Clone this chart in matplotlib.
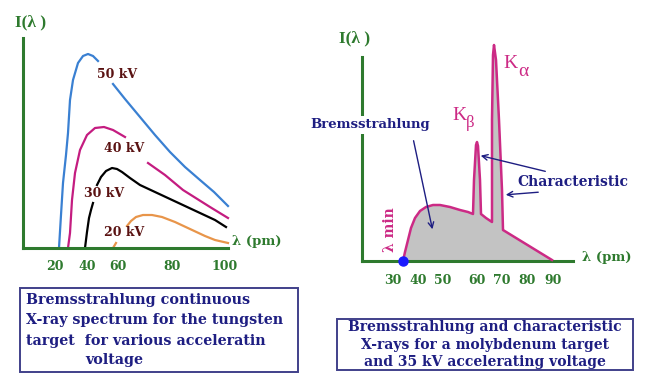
import matplotlib
matplotlib.use("Agg")
import matplotlib.pyplot as plt
from matplotlib.patches import Rectangle, FancyArrowPatch

W, H = 645, 375
SERIF = ["DejaVu Serif", "Liberation Serif"]
LSERIF = ["Liberation Serif", "DejaVu Serif"]

# ---------------- left panel data (axis units) ----------------
left_ticks_pos = [32, 64, 95, 149, 202]
left_tick_labels = ["20", "40", "60", "80", "100"]

blue1_x = [36, 38, 40, 43, 45, 47, 50, 55, 60, 65, 70, 75]
blue1_y = [0, 33, 65, 93, 115, 148, 168, 185, 192, 194, 192, 187]
blue2_x = [90, 102, 117, 132, 147, 162, 177, 191, 205]
blue2_y = [164, 149, 131, 113, 96, 81, 68, 56, 42]

mag1_x = [45, 47, 49, 52, 57, 64, 72, 81, 90, 102]
mag1_y = [0, 15, 48, 75, 98, 113, 120, 121, 118, 111]
mag2_x = [125, 142, 160, 187, 205]
mag2_y = [85, 73, 58, 41, 30]

blk1_x = [62, 64, 66, 68, 70]
blk1_y = [0, 16, 30, 38, 45]
blk2_x = [74, 78, 83, 89, 94, 99, 107, 117, 132, 147, 162, 177, 192, 203]
blk2_y = [63, 71, 77, 80, 79, 76, 70, 63, 56, 49, 42, 35, 28, 21]

org1_x = [90, 93]
org1_y = [0, 5]
org2_x = [104, 108, 113, 120, 129, 139, 152, 167, 182, 192, 205]
org2_y = [22, 27, 31, 33, 33, 31, 26, 19, 12, 8, 5]

kv_labels = ["50 kV", "40 kV", "30 kV", "20 kV"]

# ---------------- right panel data (axis units) ----------------
right_ticks_pos = [31, 56, 81, 115, 140, 165, 191]
right_tick_labels = ["30", "40", "50", "60", "70", "80", "90"]

spec_x = [41, 43, 46, 49, 53, 58, 64, 71, 78, 88, 98, 106, 111, 112, 114, 115,
          116, 118, 119, 124, 130, 130, 131, 132, 134, 137, 140, 141, 190]
spec_y = [0, 9, 21, 33, 43, 50, 54, 56, 56, 54, 51, 49, 47, 81, 116, 119,
          115, 81, 47, 43, 39, 141, 206, 216, 201, 141, 71, 31, 1]
lambda_min_x = 41

GREEN = "#2e7a2e"
NAVY = "#1e1e82"
MAG = "#cc2a85"

fig = plt.figure(figsize=(W / 100, H / 100), dpi=100)
fig.patch.set_facecolor("white")


def fx(px):
    return px / W


def fy(py):
    return 1 - py / H


def make_axes(x0, y0, x1, y1, xlim, ylim):
    ax = fig.add_axes([fx(x0), fy(y1), (x1 - x0) / W, (y1 - y0) / H])
    ax.set_xlim(*xlim)
    ax.set_ylim(*ylim)
    ax.patch.set_alpha(0)
    for s in ["top", "right"]:
        ax.spines[s].set_visible(False)
    for s in ["left", "bottom"]:
        ax.spines[s].set_color(GREEN)
        ax.spines[s].set_linewidth(2.2)
    ax.tick_params(length=0, pad=9)
    ax.set_yticks([])
    return ax


# ---------------- left panel ----------------
axL = make_axes(23, 38, 228, 248, (0, 205), (0, 210))
axL.set_xticks(left_ticks_pos)
axL.set_xticklabels(left_tick_labels, color=GREEN, fontsize=9,
                    fontweight="bold", family=SERIF)
lw = 1.6
for xs, ys in [(blue1_x, blue1_y), (blue2_x, blue2_y)]:
    axL.plot(xs, ys, color="#3a80d2", lw=lw, clip_on=False)
for xs, ys in [(mag1_x, mag1_y), (mag2_x, mag2_y)]:
    axL.plot(xs, ys, color="#c41c80", lw=lw, clip_on=False)
for xs, ys in [(blk1_x, blk1_y), (blk2_x, blk2_y)]:
    axL.plot(xs, ys, color="black", lw=lw, clip_on=False)
for xs, ys in [(org1_x, org1_y), (org2_x, org2_y)]:
    axL.plot(xs, ys, color="#e8954a", lw=lw, clip_on=False)

kv_pos = [(117, 75), (124, 148), (104, 193), (124, 233)]
for lab, (px, py) in zip(kv_labels, kv_pos):
    fig.text(fx(px), fy(py), lab, color="#5a1212", fontsize=9,
             fontweight="bold", family=SERIF, ha="center", va="center")

fig.text(fx(31), fy(22), "I(λ )", color=GREEN, fontsize=12.5,
         family=LSERIF, fontweight="bold", ha="center", va="center")
fig.text(fx(232), fy(242), "λ (pm)", color=GREEN, fontsize=9.5,
         fontweight="bold", family=SERIF, ha="left", va="center")

# ---------------- right panel ----------------
axR = make_axes(362, 36, 573, 261, (0, 211), (0, 225))
axR.spines["left"].set_bounds(0, 204)
axR.set_xticks(right_ticks_pos)
axR.set_xticklabels(right_tick_labels, color=GREEN, fontsize=9,
                    fontweight="bold", family=SERIF)
axR.fill_between(spec_x, 0, spec_y, color="#c3c3c3", lw=0, zorder=2)
axR.plot(spec_x, spec_y, color=MAG, lw=1.8, zorder=3, clip_on=False)
axR.plot([lambda_min_x], [0], "o", color="#1a1aff", ms=6.5, zorder=5,
         clip_on=False)

fig.text(fx(355), fy(38), "I(λ )", color=GREEN, fontsize=12.5,
         family=LSERIF, fontweight="bold", ha="center", va="center")
fig.text(fx(582), fy(258), "λ (pm)", color=GREEN, fontsize=9.5,
         fontweight="bold", family=SERIF, ha="left", va="center")

fig.text(fx(370), fy(125), "Bremsstrahlung", color=NAVY, fontsize=9.5,
         fontweight="bold", family=SERIF, ha="center", va="center",
         bbox=dict(facecolor="white", edgecolor="none", pad=1.5), zorder=6)
fig.text(fx(517), fy(182), "Characteristic", color=NAVY, fontsize=10,
         fontweight="bold", family=SERIF, ha="left", va="center")

fig.text(fx(390), fy(230), "λ min", color=MAG, fontsize=10,
         fontweight="bold", family=SERIF, ha="center", va="center",
         rotation=90)

fig.text(fx(452), fy(116), "K", color=MAG, fontsize=14, family=LSERIF,
         ha="left", va="center")
fig.text(fx(466), fy(123), "β", color=MAG, fontsize=12, family=LSERIF,
         ha="left", va="center")
fig.text(fx(503), fy(64), "K", color=MAG, fontsize=14, family=LSERIF,
         ha="left", va="center")
fig.text(fx(518), fy(72), "α", color=MAG, fontsize=14, family=LSERIF,
         ha="left", va="center")


def arrow(p0, p1):
    a = FancyArrowPatch((fx(p0[0]), fy(p0[1])), (fx(p1[0]), fy(p1[1])),
                        transform=fig.transFigure, arrowstyle="->",
                        mutation_scale=10, color=NAVY, lw=1.0, zorder=7)
    fig.add_artist(a)


arrow((413, 138), (433, 232))
arrow((548, 172), (478, 155))
arrow((541, 192), (503, 195))

# ---------------- caption boxes ----------------
for (x0, y0, x1, y1) in [(20, 288, 298, 372), (337, 319, 633, 370)]:
    fig.add_artist(Rectangle((fx(x0), fy(y1)), (x1 - x0) / W, (y1 - y0) / H,
                             transform=fig.transFigure, fill=False,
                             edgecolor="#40408a", lw=1.4))

left_caption = ["Bremsstrahlung continuous",
                "X-ray spectrum for the tungsten",
                "target  for various acceleratin"]
for line, py in zip(left_caption, [300, 320, 341]):
    fig.text(fx(26), fy(py), line, color=NAVY, fontsize=10.3,
             fontweight="bold", family=SERIF, ha="left", va="center")
fig.text(fx(114), fy(360), "voltage", color=NAVY, fontsize=10.3,
         fontweight="bold", family=SERIF, ha="center", va="center")

right_caption = ["Bremsstrahlung and characteristic",
                 "X-rays for a molybdenum target",
                 "and 35 kV accelerating voltage"]
for line, py in zip(right_caption, [327, 345, 362]):
    fig.text(fx(485), fy(py), line, color=NAVY, fontsize=10,
             fontweight="bold", family=SERIF, ha="center", va="center")

fig.savefig("out.png", dpi=100, facecolor="white")
